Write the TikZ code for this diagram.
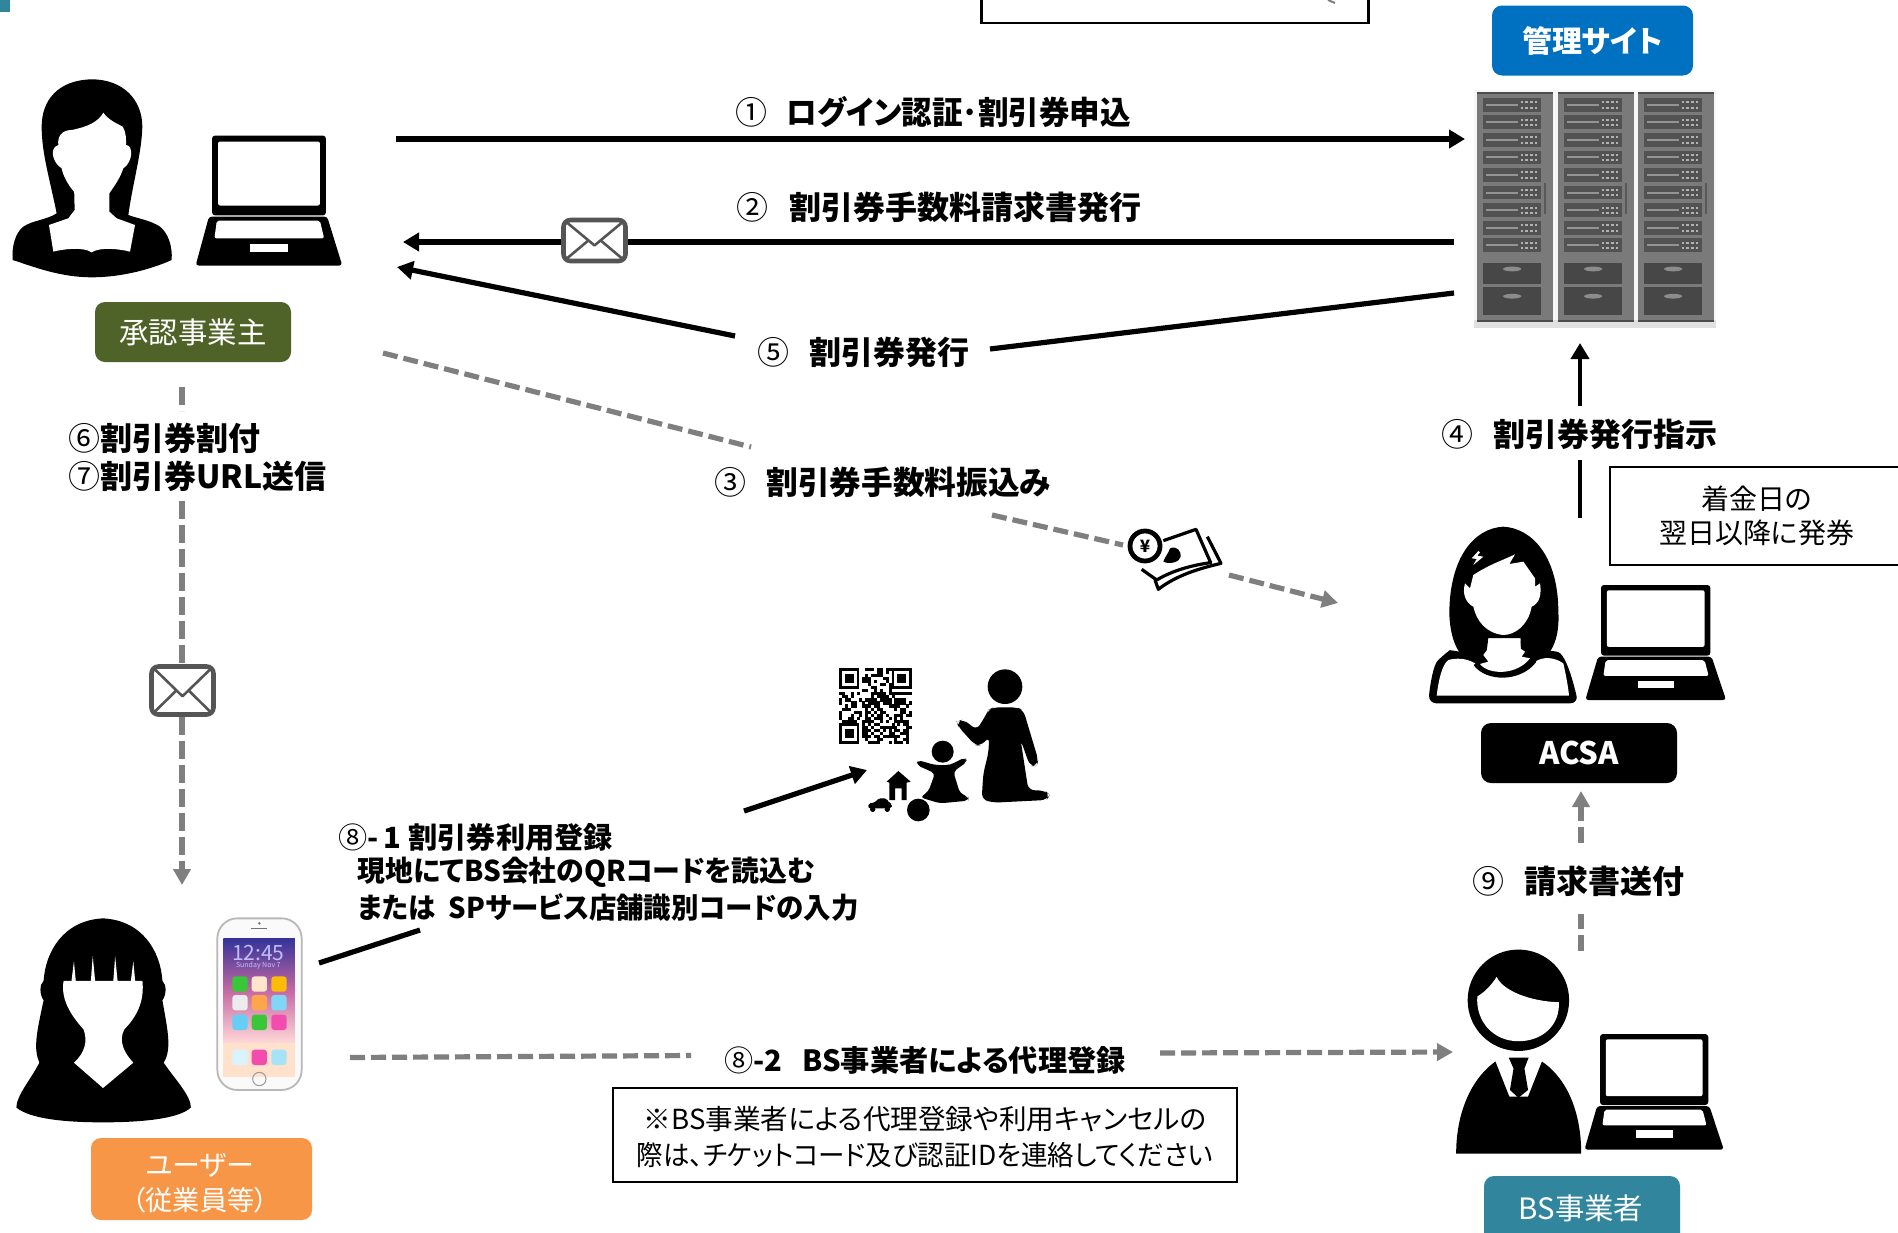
\documentclass[tikz,border=0pt]{standalone}
\usepackage{fontspec}
\usetikzlibrary{arrows.meta}
\setmainfont{Noto Sans CJK JP}[RawFeature=+palt]
\newfontfamily\jpfull{Noto Sans CJK JP}
\newcommand{\cnum}[1]{{\mdseries\jpfull #1}}
\definecolor{greydash}{HTML}{7F7F7F}
\definecolor{olivebox}{HTML}{4F6228}
\definecolor{bluebox}{HTML}{0070C0}
\definecolor{tealbox}{HTML}{31859C}
\definecolor{orangebox}{HTML}{F79646}
\definecolor{mailgrey}{HTML}{555555}
\tikzset{
  blackline/.style={line width=2.6pt,black},
  blackarrow/.style={blackline,-{Triangle[length=8pt,width=9pt]}},
  greyline/.style={line width=2.6pt,greydash,dash pattern=on 7.5pt off 3pt},
  greyarrow/.style={greyline,-{Triangle[length=8pt,width=8.5pt]}},
  lbl/.style={anchor=west,inner sep=0pt,font=\fontsize{16}{16}\selectfont\bfseries},
  lblsmall/.style={anchor=west,inner sep=0pt,font=\fontsize{14.3}{14.3}\selectfont\bfseries},
  tagbox/.style={rounded corners=5pt,inner sep=0pt,text=white,align=center},
  notebox/.style={draw=black,line width=1.2pt,fill=white,inner sep=0pt,align=center,font=\fontsize{14}{17}\selectfont},
  mailbox/.style={draw=mailgrey,line width=2.3pt,fill=white,rounded corners=3.5pt,inner sep=0pt},
}
\newcommand{\laptopicon}[4]{%
  \begin{scope}[shift={(#1,#2)},xscale=#3*0.606,yscale=#4*0.395]
    \fill[black,rounded corners=1.5pt] (0,0) rectangle (188,202);
    \fill[white,rounded corners=1pt] (10,15) rectangle (178,177);
    \fill[black,rounded corners=1.5pt] (-5,205) -- (190,205) -- (215,329) -- (-27,329) -- cycle;
    \fill[white,rounded corners=1pt] (8,215) -- (178,215) -- (185,260) -- (4,260) -- cycle;
    \fill[white] (63,274) rectangle (126,295);
  \end{scope}}
\newcommand{\mailicon}[5]{%
  \node[mailbox,minimum width=#4*0.5pt,minimum height=#5*0.5pt] (#1) at (#2,#3) {};
  \draw[mailgrey,line width=1.3pt,line join=round] (#2-#4*0.47,#3-#5*0.47) -- (#2,#3+#5*0.12) -- (#2+#4*0.47,#3-#5*0.47);
  \draw[mailgrey,line width=1.3pt] (#2-#4*0.47,#3+#5*0.47) -- (#2-#4*0.1,#3+#5*0.0) (#2+#4*0.47,#3+#5*0.47) -- (#2+#4*0.1,#3+#5*0.0);}
\begin{document}
\begin{tikzpicture}[x=0.5pt,y=-0.5pt]
\useasboundingbox (0,0) rectangle (1898,1232);
\fill[white] (0,0) rectangle (1898,1232);
\fill[tealbox] (0,0) rectangle (10,12);

% top cropped box
\node[draw=black,line width=1.2pt,fill=white,minimum width=387*0.5pt,minimum height=40*0.5pt,inner sep=0pt] (topbox) at (1175,3) {};
\draw[greydash,line width=1pt] (1328,0) -- (1335,3);

% ---------- approver woman
\begin{scope}[shift={(0,70)},scale=.3333]
  \fill[black] (275,28) .. controls (175,30) and (125,90) .. (125,170)
     .. controls (125,250) and (150,330) .. (170,430) .. controls (140,450) and (100,450) .. (70,470)
     .. controls (45,490) and (35,530) .. (38,570) .. controls (100,590) and (180,622) .. (275,622)
     .. controls (370,622) and (460,595) .. (515,570) .. controls (518,530) and (505,490) .. (480,470)
     .. controls (450,450) and (410,445) .. (385,435) .. controls (400,330) and (425,250) .. (427,170)
     .. controls (427,90) and (370,28) .. (275,28) -- cycle;
  \fill[white] (222,340) -- (224,420) -- (205,445) -- (147,465) -- (160,545)
     .. controls (190,537) and (250,530) .. (275,547) .. controls (300,530) and (360,537) .. (390,545)
     -- (405,465) -- (350,445) -- (328,425) -- (328,340) -- cycle;
  \fill[white] (310,128) .. controls (325,150) and (350,160) .. (368,170)
     .. controls (380,190) and (378,210) .. (378,225) .. controls (400,225) and (400,275) .. (370,295)
     .. controls (360,325) and (345,345) .. (328,370) -- (222,365)
     .. controls (205,345) and (190,320) .. (185,295) .. controls (160,280) and (145,235) .. (175,225)
     .. controls (172,200) and (185,180) .. (215,180) .. controls (265,170) and (295,155) .. (310,128) -- cycle;
\end{scope}
\laptopicon{212}{135.6}{1}{1}
\node[tagbox,fill=olivebox,minimum width=196*0.5pt,minimum height=60*0.5pt,font=\fontsize{14.7}{14.7}\selectfont] (approver) at (193,332) {承認事業主};

% ---------- admin site
\node[tagbox,fill=bluebox,minimum width=201*0.5pt,minimum height=70*0.5pt,font=\fontsize{15}{15}\selectfont\bfseries] (admin) at (1592.5,40.5) {\raisebox{-.5pt}{管理サイト}};
\fill[black!3] (1474,90) rectangle (1716,322);
\fill[black!12] (1474,320) rectangle (1716,328);
\foreach \rx in {1477,1558,1638}{
\begin{scope}[shift={(\rx,92)},xscale=.606,yscale=.395]
  \fill[black!52] (0,0) rectangle (125,582);
  \fill[black!70] (0,0) rectangle (125,4);
  \fill[black!70] (0,578) rectangle (125,582);
  \fill[black!65] (110,230) rectangle (114,310);
  \foreach \i in {0,...,8}{
    \pgfmathsetmacro\yy{15+44.4*\i}
    \fill[black!68] (10,\yy) rectangle (105,\yy+35);
    \fill[black!42] (15,\yy+15) rectangle (68,\yy+20);
    \foreach \dy in {11,25}{
      \draw[black!30,line width=1pt,dash pattern=on 1.2pt off 1.2pt] (72,\yy+\dy) -- (103,\yy+\dy);}
  }
  \fill[black!72] (10,432) rectangle (105,485);
  \fill[black!72] (10,494) rectangle (105,565);
  \fill[black!45] (58,448) ellipse (15 and 6);
  \fill[black!45] (58,517) ellipse (15 and 6);
\end{scope}}
\node[inner sep=0pt,minimum width=246*0.5pt,minimum height=240*0.5pt] (servers) at (1595,208) {};

% ---------- arrows 1, 2, 5
\coordinate (a1s) at (396,139); \coordinate (a1e) at (1465,139);
\draw[blackarrow] (a1s) -- (a1e);
\coordinate (a2s) at (1454,242); \coordinate (a2e) at (403,242);
\draw[blackarrow] (a2s) -- (a2e);
\mailicon{mailA}{594.5}{240.5}{62}{41}
\coordinate (a5s) at (1454,293); \coordinate (a5m1) at (990,349);
\coordinate (a5m2) at (735,336); \coordinate (a5e) at (397,267);
\draw[blackline] (a5s) -- (a5m1);
\draw[blackarrow] (a5m2) -- (a5e);

\node[lbl] (l1) at (735,112) {\cnum{①}\hspace{9.5pt}\scalebox{.955}[1]{ログイン認証･割引券申込}};
\node[lbl] (l2) at (736,207) {\cnum{②}\hspace{10.5pt}割引券手数料請求書発行};
\node[lbl] (l5) at (757,352) {\cnum{⑤}\hspace{10pt}割引券発行};
\node[lbl] (l3) at (714,482) {\cnum{③}\hspace{10pt}\scalebox{.99}[1]{割引券手数料振込み}};
\node[lbl] (l4) at (1441,434) {\cnum{④}\hspace{10pt}割引券発行指示};

% ---------- arrow 3 with money
\coordinate (a3s) at (383,353); \coordinate (a3m1) at (751,447);
\coordinate (a3m2) at (992,515); \coordinate (a3m3) at (1123,545);
\coordinate (a3m4) at (1229,575); \coordinate (a3e) at (1338,603);
\draw[greyline] (a3s) -- (a3m1);
\draw[greyline] (a3m2) -- (a3m3);
\draw[greyarrow] (a3m4) -- (a3e);
\begin{scope}[shift={(1120,520)},scale=.3333]
  \draw[black,line width=1.6pt,line join=round] (130,62) -- (228,28) -- (272,128) .. controls (220,135) and (160,150) .. (110,180) -- (65,148);
  \draw[black,line width=1.6pt,line join=round] (262,50) -- (303,130) .. controls (240,145) and (170,165) .. (115,208) -- (105,180);
  \fill[black] (150,85) .. controls (170,75) and (185,95) .. (182,110) .. controls (180,125) and (150,135) .. (130,125) .. controls (135,110) and (145,100) .. (150,85) -- cycle;
  \node[draw=black,line width=2.4pt,fill=white,circle,minimum size=30*0.5pt,inner sep=0pt,font=\fontsize{8.5}{8.5}\selectfont\bfseries] (coin) at (75,78) {¥};
\end{scope}

% ---------- arrow 4, ACSA
\coordinate (a4s) at (1580,518); \coordinate (a4m1) at (1580,460);
\coordinate (a4m2) at (1580,406); \coordinate (a4e) at (1580,343);
\draw[blackline,line width=2.3pt] (a4s) -- (a4m1);
\draw[blackarrow,line width=2.3pt] (a4m2) -- (a4e);
\node[notebox,anchor=north west,minimum width=293*0.5pt,minimum height=98*0.5pt] (note1) at (1609,466) {着金日の\\翌日以降に発券};

% ACSA woman
\begin{scope}[shift={(1420,515)},scale=.3333]
  \fill[black,rounded corners=4pt] (25,565) .. controls (30,510) and (40,450) .. (70,420) .. controls (90,405) and (120,410) .. (140,425)
     -- (390,405) .. controls (430,415) and (450,460) .. (475,565) -- cycle;
  \fill[white] (50,542) .. controls (55,500) and (65,450) .. (85,435) .. controls (110,428) and (140,430) .. (165,445)
     .. controls (200,490) and (300,495) .. (345,440) .. controls (370,425) and (400,425) .. (430,445)
     .. controls (440,490) and (445,520) .. (447,542) -- cycle;
  \fill[black] (250,35) .. controls (160,40) and (90,130) .. (88,290) .. controls (88,350) and (105,400) .. (125,420)
     -- (195,445) -- (205,370) -- (300,370) -- (305,425) -- (390,410) .. controls (410,380) and (418,340) .. (415,290)
     .. controls (415,130) and (340,40) .. (250,35) -- cycle;
  \fill[white] (205,370) -- (205,400) -- (190,420) -- (205,440) -- (180,447) .. controls (205,480) and (290,482) .. (330,430)
     -- (305,425) -- (315,410) -- (300,400) -- (302,370) -- cycle;
  \draw[black,line width=1.8pt] (165,447) .. controls (200,495) and (300,497) .. (345,437);
  \fill[white] (160,180) .. controls (205,150) and (250,135) .. (285,118) -- (268,147) -- (310,140) -- (345,190) -- (345,215) -- (360,205)
     .. controls (365,235) and (360,265) .. (335,275) .. controls (325,330) and (285,360) .. (250,360)
     .. controls (200,355) and (170,320) .. (160,275) .. controls (140,265) and (125,240) .. (135,205) -- (150,220) -- cycle;
  \fill[white] (175,108) -- (155,130) -- (170,132) -- (160,150) -- (190,125) -- (172,122) -- (180,112) -- cycle;
\end{scope}
\laptopicon{1601}{585}{.96}{.885}
\node[tagbox,fill=black,minimum width=196*0.5pt,minimum height=60*0.5pt,font=\fontsize{15.5}{15.5}\selectfont\bfseries] (acsa) at (1579,753) {\raisebox{-1.2pt}{ACSA}};

% ---------- left column 6, 7
\node[lbl] (l6) at (68,438) {\cnum{⑥}割引券割付};
\node[lbl] (l7) at (68,476) {\cnum{⑦}割引券URL送信};
\coordinate (a6s) at (182,387); \coordinate (a6m1) at (182,411);
\coordinate (a6m2) at (182,501); \coordinate (a6e) at (182,885);
\draw[greyline,dash pattern=on 9pt off 3pt] (a6s) -- (a6m1);
\draw[greyarrow,dash pattern=on 9pt off 3pt] (a6m2) -- (a6e);
\mailicon{mailB}{182.5}{690.5}{62}{48}

% ---------- QR + family
\pgfmathsetseed{12}
\begin{scope}[shift={(839,668)},xscale=2.92,yscale=3.04]
  \foreach \i in {0,...,24}{\foreach \j in {0,...,24}{
    \pgfmathsetmacro\rr{rnd}
    \ifdim\rr pt<0.52pt \fill[black] (\i,\j) rectangle (\i+1.02,\j+1.02); \fi
  }}
  \foreach \fx/\fy in {0/0,18/0,0/18}{
    \fill[white] (\fx-.0,\fy-.0) rectangle (\fx+8,\fy+8);
    \fill[black] (\fx,\fy) rectangle (\fx+7,\fy+7);
    \fill[white] (\fx+1,\fy+1) rectangle (\fx+6,\fy+6);
    \fill[black] (\fx+2,\fy+2) rectangle (\fx+5,\fy+5);
  }
\end{scope}
\begin{scope}[shift={(860,660)},scale=.3333]
  \fill[black] (435,80) circle (52);
  \fill[black,rounded corners=3pt] (400,142) -- (470,142) -- (490,150) -- (535,300) -- (530,318) -- (510,318) -- (482,240) -- (505,390)
     -- (555,392) -- (570,405) -- (560,420) -- (400,428) -- (365,418) -- (370,340) -- (385,280) -- (388,230) -- (362,258) -- (345,255)
     -- (295,200) -- (290,185) -- (310,178) -- (350,210) -- (378,165) -- (385,150) -- cycle;
  \fill[black] (248,275) circle (33);
  \fill[black,rounded corners=2pt] (172,300) -- (225,315) -- (270,315) -- (315,292) -- (322,305) -- (280,335) -- (300,400) -- (325,410)
     -- (325,422) -- (240,430) -- (180,412) -- (205,395) -- (225,340) -- (170,315) -- cycle;
  \fill[black] (80,365) -- (115,333) -- (152,365) -- (140,368) -- (140,420) -- (125,420) -- (125,385) -- (105,385) -- (105,420) -- (88,420) -- (88,368) -- cycle;
  \fill[black,rounded corners=1pt] (25,430) -- (45,428) -- (55,415) -- (80,415) -- (88,430) -- (97,432) -- (95,445) -- (25,445) -- cycle;
  \fill[black] (38,448) circle (8) (82,448) circle (8);
  \fill[black] (175,450) circle (34);
\end{scope}

% ---------- arrow 8-1
\coordinate (b1s) at (319,963); \coordinate (b1m1) at (420,930);
\coordinate (b1m2) at (744,811); \coordinate (b1e) at (867,770);
\draw[blackline] (b1s) -- (b1m1);
\draw[blackarrow] (b1m2) -- (b1e);
\node[lblsmall,font=\fontsize{14.6}{14.6}\selectfont\bfseries] (l81a) at (338,837) {\cnum{⑧}-\hspace{2.5pt}1\hspace{3.5pt}割引券利用登録};
\node[lblsmall] (l81b) at (357,872.5) {\scalebox{.975}[1]{現地にてBS会社のQRコードを読込む}};
\node[lblsmall] (l81c) at (357,907) {\scalebox{.96}[1]{または\hspace{7pt}SPサービス店舗識別コードの入力}};

% ---------- end user
\begin{scope}[shift={(0,620)},xscale=.606,yscale=.39]
  \fill[black] (170,765) .. controls (105,770) and (75,850) .. (72,925) .. controls (65,935) and (65,960) .. (72,975)
     .. controls (60,1060) and (55,1100) .. (65,1135) .. controls (50,1180) and (27,1220) .. (27,1250)
     .. controls (50,1280) and (110,1288) .. (170,1288) .. controls (230,1288) and (295,1280) .. (315,1250)
     .. controls (315,1220) and (290,1180) .. (270,1135) .. controls (285,1100) and (275,1040) .. (268,975)
     .. controls (275,960) and (275,935) .. (268,925) .. controls (265,850) and (235,770) .. (170,765) -- cycle;
  \fill[white] (105,925) -- (235,925) .. controls (238,970) and (230,1010) .. (205,1050)
     .. controls (195,1080) and (205,1110) .. (220,1135) -- (170,1200) -- (122,1135)
     .. controls (140,1110) and (145,1080) .. (138,1050) .. controls (115,1010) and (100,970) .. (105,925) -- cycle;
  \fill[white] (118,925) -- (122,875) -- (125,925) -- cycle (150,925) -- (153,862) -- (157,925) -- cycle
     (187,925) -- (190,862) -- (194,925) -- cycle (216,925) -- (220,875) -- (223,925) -- cycle;
\end{scope}
% phone
\begin{scope}[shift={(210,910)},scale=.3333]
  \draw[black!28,line width=.9pt,fill=black!2,rounded corners=10pt] (22,25) rectangle (275,540);
  \fill[black!55] (148,40) circle (4);
  \fill[black!55] (122,54) rectangle (170,58);
  \shade[top color=blue!50!black!80,bottom color=pink!60!white,middle color=violet!45!pink] (40,85) rectangle (255,400);
  \fill[pink!45!orange!30] (40,400) rectangle (255,500);
  \node[inner sep=0pt,text=blue!25!white,font=\fontsize{10.5}{10.5}\selectfont] (clock) at (145,130) {12:45};
  \node[inner sep=0pt,text=blue!25!white,font=\fontsize{3.5}{3.5}\selectfont] (clockdate) at (145,168) {Sunday Nov 7};
  \foreach \ix/\iy/\ic in {90/222/green!55!gray,148/222/orange!20,207/222/yellow!50!orange,90/278/gray!15,148/278/orange!70,207/278/cyan!50,90/337/cyan!60,148/337/green!55!gray,207/337/magenta!70,90/442/cyan!15,148/442/magenta!70,207/442/cyan!35}{
    \fill[\ic,rounded corners=1.5pt] (\ix-23,\iy-23) rectangle (\ix+23,\iy+23);}
  \draw[black!40,line width=.5pt] (148,507) circle (20);
\end{scope}
\node[tagbox,fill=orangebox,minimum width=221*0.5pt,minimum height=82*0.5pt] (userbox) at (201.5,1179) {};
\node[inner sep=0pt,text=white,font=\fontsize{14}{14}\selectfont] (usr1) at (200,1165) {ユーザー};
\node[inner sep=0pt,text=white,font=\fontsize{13.6}{13.6}\selectfont] (usr2) at (200,1200) {（従業員等）};

% ---------- arrow 8-2
\coordinate (b2s) at (350,1057.5); \coordinate (b2m1) at (691,1055.5);
\coordinate (b2m2) at (1160,1053); \coordinate (b2e) at (1453,1052);
\draw[greyline] (b2s) -- (b2m1);
\draw[greyarrow] (b2m2) -- (b2e);
\node[lbl,font=\fontsize{14.6}{14.6}\selectfont\bfseries] (l82) at (724,1060) {\cnum{⑧}-2\hspace{10pt}BS事業者による代理登録};
\node[notebox,anchor=north west,minimum width=624*0.5pt,minimum height=94*0.5pt] (note2) at (612,1087) {};
\node[inner sep=0pt,font=\fontsize{13.8}{13.8}\selectfont] (n2a) at (925,1119) {※BS事業者による代理登録や利用キャンセルの};
\node[inner sep=0pt,font=\fontsize{13.8}{13.8}\selectfont] (n2b) at (925,1155) {\scalebox{.96}[1]{際は、チケットコード及び認証IDを連絡してください}};

% ---------- arrow 9
\coordinate (a9s) at (1581,951); \coordinate (a9m1) at (1581,914);
\coordinate (a9m2) at (1581,843); \coordinate (a9e) at (1581,791);
\draw[greyline,dash pattern=on 8pt off 3pt] (a9s) -- (a9m1);
\draw[greyarrow,dash pattern=on 8pt off 3pt] (a9m2) -- (a9e);
\node[lbl] (l9) at (1472,881) {\cnum{⑨}\hspace{10pt}請求書送付};

% ---------- BS man
\begin{scope}[shift={(950,620)},xscale=.604,yscale=.39]
  \fill[black] (941,975) ellipse (84 and 130);
  \fill[white] (873,965) .. controls (885,955) and (897,935) .. (905,915) .. controls (915,950) and (960,978) .. (1008,980)
     .. controls (1010,1040) and (980,1080) .. (941,1080) .. controls (900,1080) and (870,1030) .. (873,965) -- cycle;
  \fill[black] (903,1132) .. controls (860,1180) and (838,1270) .. (838,1368) -- (1045,1368) .. controls (1045,1270) and (1025,1180) .. (980,1132) -- (957,1222) -- (926,1222) -- cycle;
  \fill[black] (925,1122) -- (958,1122) -- (951,1150) -- (957,1205) -- (941,1225) -- (927,1205) -- (933,1150) -- cycle;
\end{scope}
\laptopicon{1600}{1034}{.95}{.89}
\node[tagbox,fill=tealbox,minimum width=196*0.5pt,minimum height=70*0.5pt] (bsbox) at (1582,1211) {};
\node[inner sep=0pt,text=white,font=\fontsize{14.7}{14.7}\selectfont] (bstxt) at (1581,1208) {BS事業者};
\end{tikzpicture}
\end{document}
